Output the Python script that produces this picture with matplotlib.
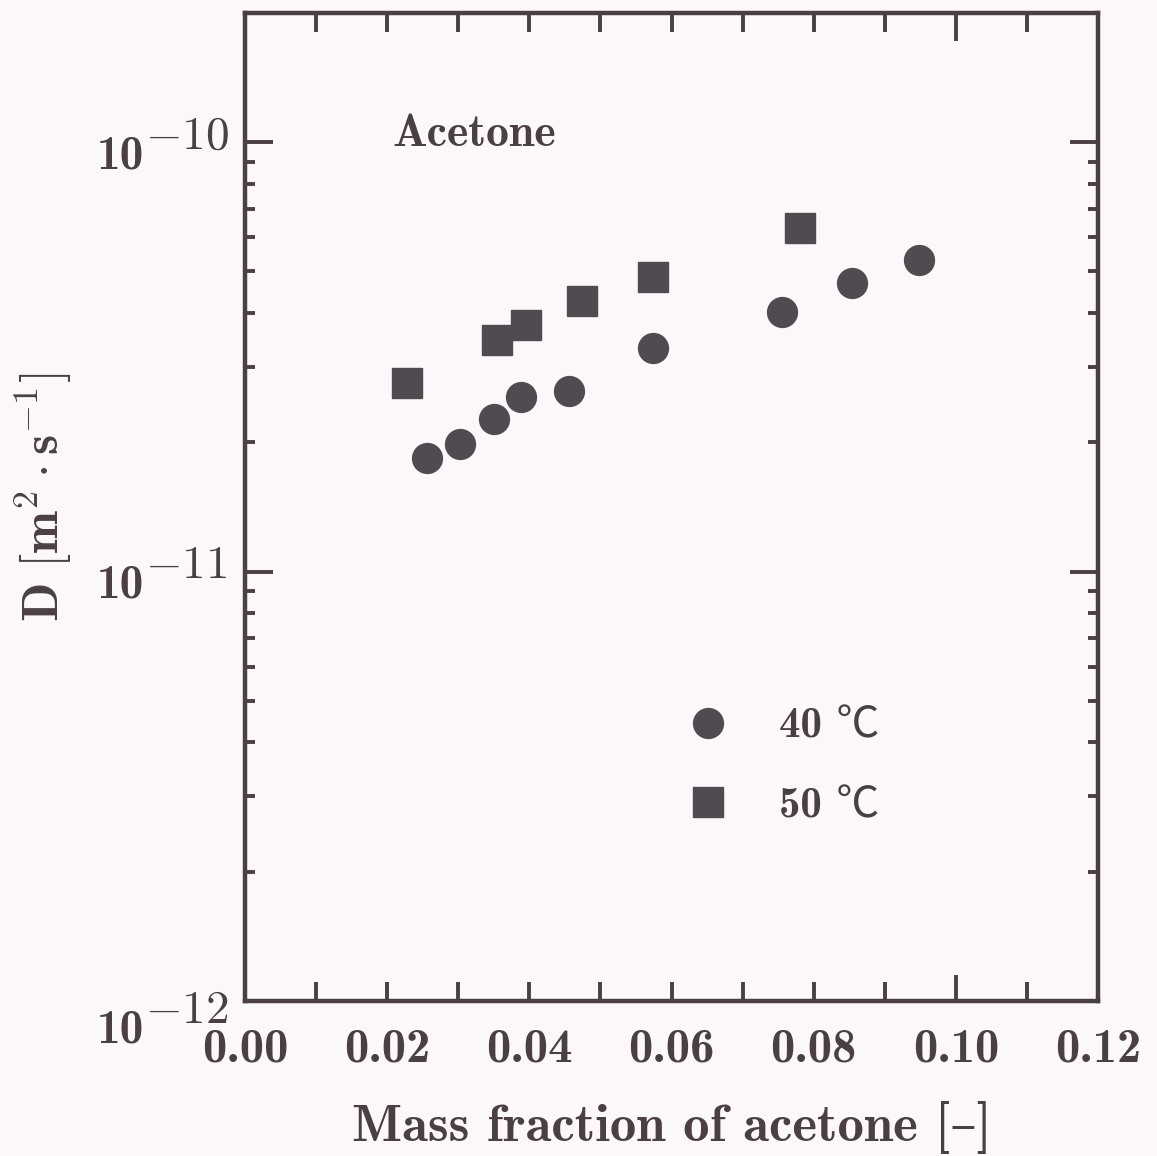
import numpy as np
import matplotlib
matplotlib.use("Agg")
import matplotlib.pyplot as plt
from matplotlib.ticker import MultipleLocator, LogLocator, NullFormatter
from matplotlib.lines import Line2D

plt.rcParams['mathtext.fontset'] = 'cm'
plt.rcParams['axes.unicode_minus'] = True

# ---- data ----
x_40 = [0.0256, 0.0302, 0.0350, 0.0388, 0.0456, 0.0574, 0.0755, 0.0854, 0.0948]
D_40 = [1.84e-11, 1.98e-11, 2.27e-11, 2.55e-11, 2.63e-11, 3.32e-11, 4.02e-11, 4.69e-11, 5.31e-11]
x_50 = [0.0228, 0.0354, 0.0395, 0.0474, 0.0574, 0.0781]
D_50 = [2.75e-11, 3.46e-11, 3.75e-11, 4.26e-11, 4.85e-11, 6.30e-11]
series_labels = ["40 \u2103", "50 \u2103"]
x_ticks = [0.00, 0.02, 0.04, 0.06, 0.08, 0.10, 0.12]
y_exponents = [-12, -11, -10]
title_text = "Acetone"
x_label = "Mass fraction of acetone [\u2013]"

INK = "#4b3f46"
MARK = "#514a51"
BG = "#fcf8f9"
FONT = ['cmb10', 'DejaVu Serif']
CFONT = ['cmb10', 'Noto Sans CJK JP', 'DejaVu Serif']

fig = plt.figure(figsize=(11.57, 11.56), dpi=100, facecolor=BG)
ax = fig.add_axes([0.2118, 0.1341, 0.7372, 0.8547], facecolor=BG)

ax.plot(x_40, D_40, linestyle='none', marker='o', markersize=21.5, color=MARK, mec=MARK)
ax.plot(x_50, D_50, linestyle='none', marker='s', markersize=21.5, color=MARK, mec=MARK)

ax.set_yscale('log')
ax.set_xlim(0.0, 0.12)
ax.set_ylim(1e-12, 2.0e-10)

for s in ax.spines.values():
    s.set_linewidth(3.2)
    s.set_color(INK)

# x ticks
ax.set_xticks(x_ticks, labels=[f"{v:.2f}" for v in x_ticks])
ax.xaxis.set_minor_locator(MultipleLocator(0.01))
ax.tick_params(axis='x', which='both', direction='in', length=14, width=2.8,
               color=INK, top=True, bottom=True, labelsize=35, labelcolor=INK, pad=20)
for t in ax.get_xticklabels():
    t.set_fontfamily(FONT)
for tk, v in zip(ax.xaxis.get_major_ticks(), x_ticks):
    if abs(v - 0.10) < 1e-9:
        tk.tick1line.set_markersize(19)
        tk.tick2line.set_markersize(20)

# y ticks
ax.yaxis.set_major_locator(LogLocator(base=10, numticks=10))
ax.yaxis.set_minor_locator(LogLocator(base=10, subs=np.arange(2, 10), numticks=20))
ax.yaxis.set_major_formatter(NullFormatter())
ax.yaxis.set_minor_formatter(NullFormatter())
ax.tick_params(axis='y', which='major', direction='in', length=20, width=2.8,
               color=INK, left=True, right=True)
ax.tick_params(axis='y', which='minor', direction='in', length=7, width=2.8,
               color=INK, left=True, right=True)

ytr = ax.get_yaxis_transform()
for e in y_exponents:
    extra = -11 if e == min(y_exponents) else 0
    ax.annotate("10", xy=(0, 10.0 ** e), xycoords=ytr,
                xytext=(-72.5, -18.7 + extra), textcoords='offset points',
                ha='right', va='baseline', fontsize=34, color=INK, family=FONT,
                annotation_clip=False)
    ax.annotate(r"$\mathbf{-%d}$" % abs(e), xy=(0, 10.0 ** e), xycoords=ytr,
                xytext=(-72.0, -4.5 + extra), textcoords='offset points',
                ha='left', va='baseline', fontsize=34, color=INK,
                annotation_clip=False)

ax.set_xlabel(x_label, fontsize=38, color=INK, family=FONT, labelpad=22)
ax.set_ylabel(r"$\mathbf{D}\ [\mathbf{m}^{\mathbf{2}}\cdot\mathbf{s}^{\mathbf{-1}}]$",
              fontsize=37, color=INK)
ax.yaxis.set_label_coords(-0.200, 0.51)

ax.text(0.173, 0.8654, title_text, transform=ax.transAxes, fontsize=33,
        color=INK, family=FONT, ha='left', va='baseline')

handles = [Line2D([], [], linestyle='none', marker='o', markersize=21.5, color=MARK),
           Line2D([], [], linestyle='none', marker='s', markersize=21.5, color=MARK)]
leg = ax.legend(handles, series_labels, loc='upper left', bbox_to_anchor=(0.518, 0.297),
                frameon=False, handlelength=1.0, handletextpad=1.15, labelspacing=0.94,
                borderpad=0, borderaxespad=0, prop={'family': CFONT, 'size': 31})
for t in leg.get_texts():
    t.set_color(INK)

fig.savefig("out.png", dpi=100, facecolor=BG)
